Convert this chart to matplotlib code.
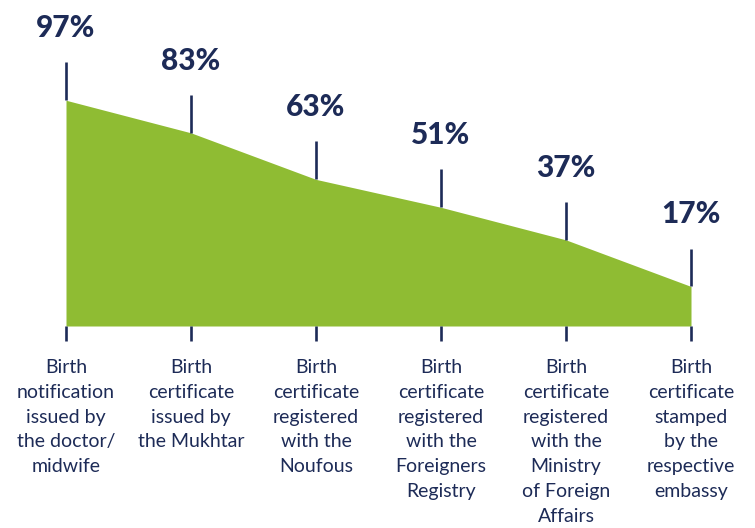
import matplotlib
matplotlib.use("Agg")
import matplotlib.pyplot as plt

# data
steps = [
    "Birth\nnotification\nissued by\nthe doctor/\nmidwife",
    "Birth\ncertificate\nissued by\nthe Mukhtar",
    "Birth\ncertificate\nregistered\nwith the\nNoufous",
    "Birth\ncertificate\nregistered\nwith the\nForeigners\nRegistry",
    "Birth\ncertificate\nregistered\nwith the\nMinistry\nof Foreign\nAffairs",
    "Birth\ncertificate\nstamped\nby the\nrespective\nembassy",
]
shares = [97, 83, 63, 51, 37, 17]

navy = "#1d2b57"
green = "#8fbc33"

fig = plt.figure(figsize=(7.55, 5.28), dpi=100)
# axes placed so that the baseline sits at y=326px and step points run 66..691px
ax = fig.add_axes([66 / 755, 202 / 528, 625 / 755, 256 / 528])
x = list(range(len(shares)))
ax.fill_between(x, 0, shares, color=green, linewidth=0)

stem = 16.3
for xi, v in zip(x, shares):
    ax.plot([xi, xi], [v, v + stem], color=navy, lw=1.9, clip_on=False,
            solid_capstyle="butt")
    ax.text(xi, v + 31, f"{v}%", ha="center", va="center", color=navy,
            fontsize=21.5, fontweight="black", family="Lato")

ax.set_xlim(0, len(shares) - 1)
ax.set_ylim(0, 110)
ax.set_xticks(x)
ax.set_xticklabels(steps, color=navy, fontsize=14, family="Lato",
                   linespacing=1.55, va="top")
ax.tick_params(axis="x", length=11, width=1.9, color=navy, pad=13)
ax.set_yticks([])
for s in ax.spines.values():
    s.set_visible(False)

fig.savefig("out.png", dpi=100)
